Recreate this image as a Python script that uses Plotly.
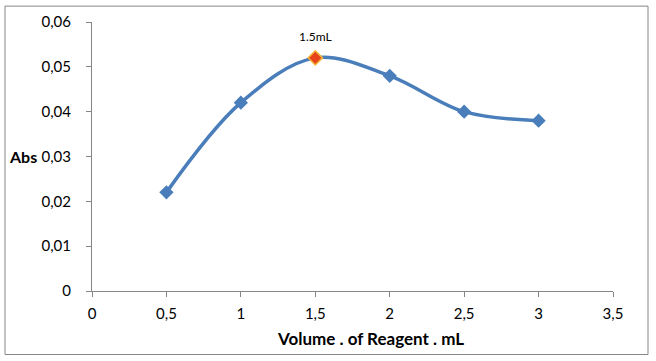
import plotly.graph_objects as go

volume = [0.5, 1, 1.5, 2, 2.5, 3]
absorbance = [0.022, 0.042, 0.052, 0.048, 0.040, 0.038]
peak_x = [1.5]
peak_y = [0.052]
peak_label = ["1.5mL"]

x_ticks = [0, 0.5, 1, 1.5, 2, 2.5, 3, 3.5]
x_tick_text = ["0", "0,5", "1", "1,5", "2", "2,5", "3", "3,5"]
y_ticks = [0, 0.01, 0.02, 0.03, 0.04, 0.05, 0.06]
y_tick_text = ["0", "0,01", "0,02", "0,03", "0,04", "0,05", "0,06"]

W, H = 656, 361
L, R, T, B = 92, 43, 20, 70
pw, ph = W - L - R, H - T - B

def px(xp):
    return (xp - L) / pw

def py(yp):
    return (H - B - yp) / ph

fig = go.Figure()
fig.add_trace(go.Scatter(
    x=volume, y=absorbance, mode="lines+markers",
    line=dict(color="#4A7EBB", width=3.5, shape="spline", smoothing=1.0),
    marker=dict(symbol="diamond", size=11, color="#4A7EBB"),
    showlegend=False, hoverinfo="skip"))
fig.add_trace(go.Scatter(
    x=peak_x, y=peak_y, mode="markers",
    marker=dict(symbol="diamond", size=11, color="#E8441C",
                line=dict(color="#F2B53A", width=1.5)),
    showlegend=False, hoverinfo="skip"))
fig.add_annotation(x=peak_x[0], y=peak_y[0], text=peak_label[0], showarrow=False,
                   xanchor="center", yanchor="middle", yshift=21,
                   font=dict(family="Lato, Open Sans, sans-serif", size=12, color="#000000"))

axis_font = dict(family="Lato, Open Sans, sans-serif", size=15, color="#000000")
fig.update_xaxes(range=[0, 3.5], tickvals=x_ticks, ticktext=x_tick_text,
                 showgrid=False, zeroline=False, showline=True, linecolor="#868686",
                 linewidth=1, ticks="outside", ticklen=5, tickcolor="#868686",
                 tickfont=axis_font, ticklabelstandoff=4)
fig.update_yaxes(range=[0, 0.06], tickvals=y_ticks, ticktext=y_tick_text,
                 showgrid=False, zeroline=False, showline=True, linecolor="#868686",
                 linewidth=1, ticks="outside", ticklen=5, tickcolor="#868686",
                 tickfont=axis_font, ticklabelstandoff=12)

fig.add_annotation(x=px(23), y=py(156), xref="paper", yref="paper",
                   xanchor="center", yanchor="middle",
                   text="<b>Abs</b>", showarrow=False,
                   font=dict(family="Lato, Open Sans, sans-serif", size=16, color="#000000"))
fig.add_annotation(x=px(370), y=py(339), xref="paper", yref="paper",
                   xanchor="center", yanchor="middle",
                   text="<b>Volume . of Reagent . mL</b>", showarrow=False,
                   font=dict(family="Liberation Sans Narrow, Arial Narrow, Lato, sans-serif",
                             size=17, color="#000000"))

fig.add_shape(type="rect", xref="paper", yref="paper",
              x0=px(5), x1=px(648), y0=py(355), y1=py(4),
              line=dict(color="#868686", width=1), fillcolor="rgba(0,0,0,0)")

fig.update_layout(width=W, height=H, margin=dict(l=L, r=R, t=T, b=B),
                  plot_bgcolor="white", paper_bgcolor="white")
fig.write_html("out.html", config={"displayModeBar": False},
               post_script="document.body.style.margin='0';document.body.style.overflow='hidden';")
